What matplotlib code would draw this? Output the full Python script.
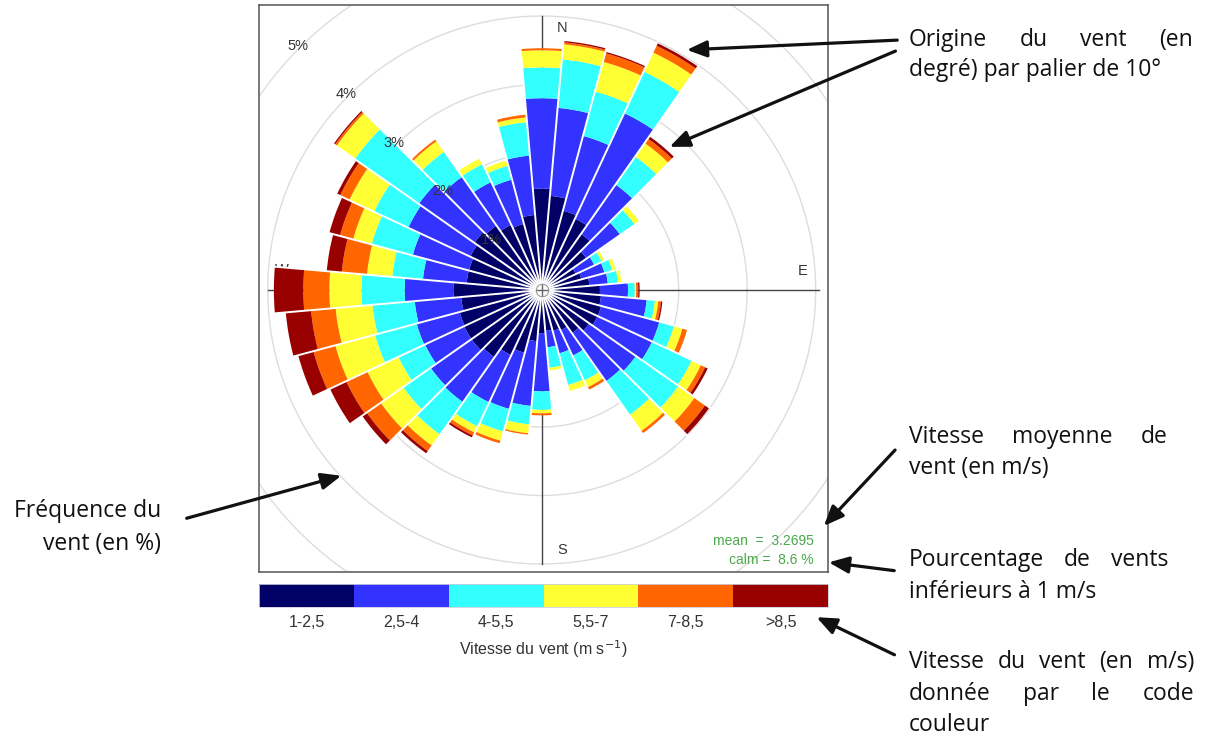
import numpy as np
import matplotlib
matplotlib.use("Agg")
import matplotlib.pyplot as plt
from matplotlib.patches import Wedge, FancyArrowPatch
from matplotlib.colors import ListedColormap, BoundaryNorm
from matplotlib.cm import ScalarMappable

# wind origin, degrees clockwise from north
directions = np.arange(0, 360, 10)

# cumulative frequency (%) up to the top of each speed class, per direction
upto_2_5 = [1.48, 1.38, 1.20, 1.15, 1.00, 0.80, 0.55, 0.60, 0.70, 0.85, 0.87, 0.90,
            0.90, 0.85, 0.77, 0.65, 0.62, 0.60, 0.63, 0.75, 0.95, 1.05, 1.20, 1.25,
            1.25, 1.24, 1.18, 1.29, 1.10, 1.10, 1.15, 1.20, 1.15, 1.05, 1.00, 1.10]
upto_4 = [2.80, 2.67, 2.33, 2.85, 1.88, 1.40, 0.85, 0.95, 0.97, 1.26, 1.54, 1.78,
          1.78, 1.68, 1.63, 1.06, 0.96, 0.84, 1.48, 1.70, 1.80, 1.81, 2.00, 1.98,
          1.88, 1.89, 1.86, 2.00, 1.74, 1.95, 2.15, 2.19, 2.02, 1.74, 1.67, 1.97]
upto_5_5 = [3.25, 3.38, 3.00, 3.52, 2.38, 1.66, 0.97, 1.07, 1.12, 1.36, 1.66, 2.00,
            2.42, 2.44, 2.23, 1.46, 1.44, 1.14, 1.75, 1.97, 2.14, 2.20, 2.58, 2.47,
            2.31, 2.52, 2.48, 2.63, 2.19, 2.57, 2.70, 3.33, 2.47, 2.03, 1.88, 2.46]
upto_7 = [3.50, 3.60, 3.45, 3.83, 2.62, 1.74, 1.01, 1.12, 1.17, 1.38, 1.71, 2.13,
          2.57, 2.73, 2.52, 1.57, 1.53, 1.18, 1.80, 2.10, 2.28, 2.30, 2.78, 2.87,
          2.81, 3.12, 3.02, 3.10, 2.56, 2.85, 3.10, 3.66, 2.66, 2.12, 1.96, 2.53]
upto_8_5 = [3.53, 3.63, 3.58, 3.94, 2.70, 1.74, 1.01, 1.12, 1.17, 1.41, 1.75, 2.20,
            2.64, 2.92, 2.56, 1.61, 1.53, 1.18, 1.83, 2.12, 2.32, 2.35, 2.88, 3.12,
            3.15, 3.45, 3.38, 3.48, 2.93, 3.05, 3.25, 3.69, 2.69, 2.12, 1.96, 2.57]
upto_max = [3.53, 3.65, 3.60, 3.98, 2.74, 1.74, 1.01, 1.12, 1.17, 1.43, 1.77, 2.20,
            2.68, 2.99, 2.56, 1.61, 1.53, 1.18, 1.83, 2.12, 2.32, 2.38, 2.92, 3.20,
            3.41, 3.68, 3.75, 3.91, 3.15, 3.21, 3.30, 3.71, 2.69, 2.12, 1.96, 2.57]

speed_labels = ["1-2,5", "2,5-4", "4-5,5", "5,5-7", "7-8,5", ">8,5"]
speed_colors = ["#000066", "#3333ff", "#33ffff", "#ffff33", "#ff6600", "#990000"]
grid_levels = [1, 2, 3, 4, 5, 6]
mean_speed = 3.2695
calm_pct = 8.6

W, H = 1208, 740
fig = plt.figure(figsize=(W / 100, H / 100), dpi=100)


def px(x, y):
    return x / W, 1 - y / H


ax = fig.add_axes([259 / W, 1 - 572 / H, 569 / W, 567 / H])
ax.set_xlim(-4.127, 4.180)
ax.set_ylim(-4.117, 4.161)
ax.set_xticks([])
ax.set_yticks([])
for s in ax.spines.values():
    s.set_color("#555555")
    s.set_linewidth(1.1)

# grid circles and compass axes
t = np.linspace(0, 2 * np.pi, 400)
for g in grid_levels:
    ax.plot(g * np.cos(t), g * np.sin(t), color="#dddddd", lw=1.0, zorder=1)
ax.plot([-4.0, 4.05], [0, 0], color="#444444", lw=1.0, zorder=1)
ax.plot([0, 0], [-4.0, 4.0], color="#444444", lw=1.0, zorder=1)
for lab, (x, y) in {"N": (0.30, 3.82), "E": (3.81, 0.28),
                    "S": (0.30, -3.80), "W": (-3.79, 0.29)}.items():
    ax.text(x, y, lab, ha="center", va="center", fontsize=10.5,
            family="Liberation Sans", color="#333333", zorder=1)

# stacked paddles
classes = [upto_2_5, upto_4, upto_5_5, upto_7, upto_8_5, upto_max]
for i, d in enumerate(directions):
    phi = 90 - d
    inner = 0.0
    for k, cum in enumerate(classes):
        outer = cum[i]
        if outer > inner:
            ax.add_patch(Wedge((0, 0), outer, phi - 5, phi + 5, width=outer - inner,
                               facecolor=speed_colors[k], edgecolor="none", zorder=2))
        inner = outer

# white separators between paddles
tops = np.array(upto_max)
for i, d in enumerate(directions):
    r = max(tops[i], tops[(i + 1) % len(tops)]) + 0.05
    a = np.deg2rad(90 - (d + 5))
    ax.plot([0, r * np.cos(a)], [0, r * np.sin(a)], color="white", lw=1.4,
            solid_capstyle="butt", zorder=3)

ax.plot(0, 0, "o", ms=9, mfc="white", mec="#999999", mew=0.8, zorder=4)
ax.plot(0, 0, "+", ms=9, color="#666666", mew=1.0, zorder=5)

a45 = np.deg2rad(135)
for g in grid_levels[:5]:
    r = g + 0.04
    ax.text(r * np.cos(a45), r * np.sin(a45), f"{g}%", ha="center", va="center",
            fontsize=10.5, family="Liberation Sans", color="#333333", zorder=6)

ax.text(3.97, -3.72, f"mean  =  {mean_speed}", ha="right", va="baseline",
        fontsize=10, family="Liberation Sans", color="#4aa84a", zorder=6)
ax.text(3.97, -4.0, f"calm =  {calm_pct} %", ha="right", va="baseline",
        fontsize=10, family="Liberation Sans", color="#4aa84a", zorder=6)

# colour key
cax = fig.add_axes([259 / W, 1 - 607 / H, 569 / W, 23 / H])
cmap = ListedColormap(speed_colors)
norm = BoundaryNorm(np.arange(7), cmap.N)
cb = fig.colorbar(ScalarMappable(norm=norm, cmap=cmap), cax=cax, orientation="horizontal")
cb.set_ticks(np.arange(6) + 0.5, labels=speed_labels)
cax.minorticks_off()
cax.tick_params(which="both", length=0, pad=6, labelsize=11.5, labelcolor="#333333")
for tl in cax.get_xticklabels():
    tl.set_family("Liberation Sans")
cb.outline.set_edgecolor("#ccccdd")
cb.outline.set_linewidth(0.6)
cb.set_label("Vitesse du vent (m s$^{-1}$)", fontsize=11.5, family="Liberation Sans",
             color="#333333", labelpad=6)

# callouts
note_font = dict(fontsize=16.5, family="Open Sans", color="#111111", va="baseline")


def justified(words, x0, x1, y):
    items = [fig.text(0, 0, w, **note_font) for w in words]
    rend = fig.canvas.get_renderer()
    widths = [it.get_window_extent(rend).width for it in items]
    gap = (x1 - x0 - sum(widths)) / (len(words) - 1)
    x = x0
    for it, w in zip(items, widths):
        it.set_position(px(x, y))
        x += w + gap


def plain(s, x, y, ha="left"):
    fig.text(*px(x, y), s, ha=ha, **note_font)


justified("Origine du vent (en".split(), 909, 1193, 46)
plain("degré) par palier de 10°", 909, 76)
justified("Vitesse moyenne de".split(), 909, 1168, 443)
plain("vent (en m/s)", 909, 474)
justified("Pourcentage de vents".split(), 909, 1168, 566)
plain("inférieurs à 1 m/s", 909, 598)
justified("Vitesse du vent (en m/s)".split(), 909, 1194, 668)
justified("donnée par le code".split(), 909, 1194, 700)
plain("couleur", 909, 731)
plain("Fréquence du", 161, 517, ha="right")
plain("vent (en %)", 161, 550, ha="right")

arrows = [((900, 40), (684, 50)), ((898, 50), (667, 148)),
          ((897, 448), (822, 528)), ((897, 571), (826, 562)),
          ((897, 656), (814, 616)), ((184, 519), (344, 475))]
for (x0, y0), (x1, y1) in arrows:
    fig.patches.append(FancyArrowPatch(px(x0, y0), px(x1, y1), transform=fig.transFigure,
                                       arrowstyle="-|>,head_length=1.2,head_width=0.5",
                                       mutation_scale=10, lw=2.3, color="#111111"))

fig.savefig("out.png", dpi=100)
